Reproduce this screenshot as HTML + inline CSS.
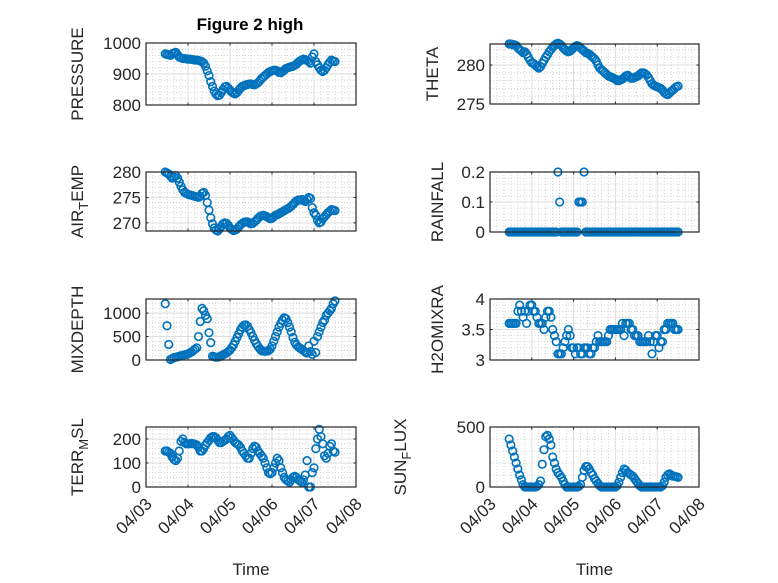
<!DOCTYPE html>
<html><head><meta charset="utf-8">
<style>
html,body{margin:0;padding:0;background:#fff;}
svg{display:block;font-family:"Liberation Sans","DejaVu Sans",sans-serif;}
</style></head>
<body>
<svg id="fig" width="778" height="583" viewBox="0 0 778 583" xmlns="http://www.w3.org/2000/svg">
<rect x="0" y="0" width="778" height="583" fill="#fff"/>
<text x="250" y="30" text-anchor="middle" font-size="17" font-weight="bold" fill="#000">Figure 2 high</text>
</svg>
<script>
// hours since 04/03 00:00 (hourly samples)
const startHour = 11, endHour = 108;
const dayLabels = ["04/03","04/04","04/05","04/06","04/07","04/08"];

const pressure = [965,963,962,960,965,968,970, 962,955,952,950,950,949,948, 948,947,946,945,945,944,942,
 940,935,925,910,895,875,860, 845,835,830,832,840,850,858, 860,855,848,842,838,836,840,
 848,855,860,862,865,866,868, 868,866,865,868,872,878,885, 890,895,900,905,908,910,912,
 912,910,905,904,908,912,918, 920,922,924,925,928,932,938, 942,945,948,946,944,940,935,
 955,965,940,930,920,912,908, 912,920,930,938,945,942,940];
const airTemp = [280,279.8,279.6,279.2,278.8,279,279.3, 278.8,278,277.2,276.5,276,275.8,275.6,
 275.5,275.4,275.3,275.2,275.1,275,275.2, 275.8,276,275.4,274,272.5,271,269.8,
 269,268.6,268.4,268.8,269.3,269.8,270, 269.9,269.5,269,268.7,268.5,268.6,268.8,
 269.2,269.6,269.9,270.1,270.2,270.2,270, 269.8,269.9,270.2,270.5,270.9,271.2,271.4,
 271.5,271.4,271.2,271,270.8,270.9,271.2, 271.5,271.6,271.8,272,272.2,272.4,272.6,
 272.8,273,273.3,273.6,274,274.3,274.5, 274.5,274.6,274.4,274.2,274.6,275,274.8,
 273,272,271.5,270.5,270,270.2,270.8, 271.2,271.6,272,272.3,272.6,272.5,272.4];
const mixDepth = [1200,730,330,10,30,50,60, 70,80,90,100,110,120,130, 150,170,200,230,260,500,820,
 1100,1050,950,880,580,370,80, 70,60,60,70,90,110,130, 150,180,210,260,320,400,480,
 560,640,700,740,750,720,650, 580,500,420,350,290,240,200, 190,185,190,200,230,300,400,
 500,600,700,780,850,900,880, 800,700,600,480,380,320,280, 250,230,200,170,150,300,180,
 120,400,160,500,600,700,800, 850,950,1000,1050,1100,1200,1260];
const terrMsl = [150,150,145,140,125,115,110, 120,150,190,200,185,180,180, 180,182,180,178,175,165,150,
 150,160,175,185,195,205,210, 210,205,195,185,185,190,195, 200,210,215,205,195,185,180,
 175,165,150,140,130,120,120, 140,160,170,165,150,140,130, 120,100,80,60,55,60,80,
 100,120,110,80,60,40,30, 25,20,30,40,45,40,30, 25,20,30,50,110,0,0,
 60,80,160,200,240,210,180, 130,120,140,170,180,150,145];
const theta = [282.7,282.7,282.6,282.6,282.5,282.2,282, 281.8,281.6,281.7,281.4,281,280.6,280.3,
 280.2,280,279.8,279.6,279.8,280.2,280.6, 281,281.3,281.7,282,282.3,282.5,282.7,
 282.8,282.7,282.5,282.2,282,281.8,281.7, 281.8,282,282.2,282.4,282.5,282.4,282.2,
 282,281.8,281.6,281.5,281.4,281.2,281, 280.8,280.5,280,279.6,279.4,279.2,279,
 278.8,278.6,278.5,278.4,278.3,278.2,278, 278,278.1,278.2,278.4,278.6,278.7,278.5,
 278.3,278.3,278.4,278.5,278.6,278.8,279, 279,278.9,278.7,278.4,278,277.6,277.4,
 277.3,277.2,277.1,277,276.8,276.5,276.3, 276.2,276.4,276.6,276.8,277,277.2,277.3];
const rainfall = [0,0,0,0,0,0,0, 0,0,0,0,0,0,0, 0,0,0,0,0,0,0, 0,0,0,0,0,0,0,
 0.2,0.1,0,0,0,0,0, 0,0,0,0,0,0.1,0.1, 0.1,0.2,0,0,0,0,0, 0,0,0,0,0,0,0,
 0,0,0,0,0,0,0, 0,0,0,0,0,0,0, 0,0,0,0,0,0,0, 0,0,0,0,0,0,0, 0,0,0,0,0,0,0, 0,0,0,0,0,0,0];
const h2oMix = [3.6,3.6,3.6,3.6,3.6,3.8,3.9, 3.8,3.7,3.8,3.6,3.8,3.9,3.9, 3.8,3.8,3.7,3.6,3.6,3.6,3.5,
 3.7,3.8,3.8,3.7,3.5,3.4,3.3, 3.1,3.1,3.1,3.2,3.3,3.4,3.5, 3.4,3.2,3.2,3.1,3.2,3.2,3.1,
 3.1,3.2,3.2,3.2,3.1,3.1,3.2, 3.2,3.3,3.4,3.3,3.3,3.3,3.3, 3.3,3.4,3.5,3.5,3.5,3.5,3.5,
 3.5,3.5,3.6,3.4,3.6,3.6,3.6, 3.5,3.5,3.4,3.4,3.4,3.3,3.3, 3.3,3.3,3.3,3.4,3.3,3.1,3.3,
 3.4,3.4,3.2,3.3,3.3,3.5,3.5, 3.6,3.6,3.6,3.6,3.5,3.5,3.5];
const sunFlux = [400,350,300,250,200,150,100, 60,20,0,0,0,0,0, 0,0,5,20,50,190,310,
 420,430,400,350,250,200,150, 120,100,80,50,20,0,0, 0,0,0,0,0,5,20,
 80,140,170,170,150,120,100, 70,50,30,10,0,0,0, 0,0,0,0,0,0,10,
 40,80,120,150,140,120,110, 100,90,70,50,30,10,0, 0,0,0,0,0,0,0,
 0,0,0,0,10,40,80, 100,110,100,90,90,85,80];

const NS="http://www.w3.org/2000/svg";
const svg=document.getElementById('fig');
function mk(tag,attrs,parent){const e=document.createElementNS(NS,tag);for(const k in attrs)e.setAttribute(k,attrs[k]);(parent||svg).appendChild(e);return e;}

const hours=[];for(let h=startHour;h<=endHour;h++)hours.push(h);

const panels=[
 {name:'pressure',data:pressure,x0:146,x1:356,y0:43,y1:105,ymin:800,ymax:1000,ticks:[800,900,1000],labels:['800','900','1000'],lab:['PRESSURE'],lx:83,xt:false},
 {name:'theta',data:theta,x0:490,x1:699,y0:44,y1:104,ymin:275,ymax:282.7,ticks:[275,280],labels:['275','280'],lab:['THETA'],lx:438,xt:false},
 {name:'air-temp',data:airTemp,x0:146,x1:356,y0:172,y1:231,ymin:268.4,ymax:280,ticks:[270,275,280],labels:['270','275','280'],lab:['AIR','T','EMP'],lx:83,xt:false},
 {name:'rainfall',data:rainfall,x0:490,x1:699,y0:172,y1:232,ymin:0,ymax:0.2,ticks:[0,0.1,0.2],labels:['0','0.1','0.2'],lab:['RAINFALL'],lx:443,xt:false},
 {name:'mixdepth',data:mixDepth,x0:146,x1:356,y0:299,y1:360,ymin:0,ymax:1300,ticks:[0,500,1000],labels:['0','500','1000'],lab:['MIXDEPTH'],lx:83,xt:false},
 {name:'h2omixra',data:h2oMix,x0:490,x1:699,y0:299,y1:360,ymin:3,ymax:4,ticks:[3,3.5,4],labels:['3','3.5','4'],lab:['H2OMIXRA'],lx:443,xt:false},
 {name:'terr-msl',data:terrMsl,x0:146,x1:356,y0:427,y1:487,ymin:0,ymax:250,ticks:[0,100,200],labels:['0','100','200'],lab:['TERR','M','SL'],lx:83,xt:true},
 {name:'sun-flux',data:sunFlux,x0:490,x1:699,y0:427,y1:487,ymin:0,ymax:500,ticks:[0,500],labels:['0','500'],lab:['SUN','F','LUX'],lx:406,xt:true}
];

panels.forEach(p=>{
 const g=mk('g',{});
 
 
 const xs=h=>p.x0+(h/24)/5*(p.x1-p.x0);
 const ys=v=>p.y1-(v-p.ymin)/(p.ymax-p.ymin)*(p.y1-p.y0);
 mk('rect',{x:p.x0,y:p.y0,width:p.x1-p.x0,height:p.y1-p.y0,fill:'#fff'},g);
 for(let d=0;d<5;d++)for(let m=1;m<6;m++){const x=xs((d+m/6)*24);
  mk('line',{x1:x,x2:x,y1:p.y0,y2:p.y1,stroke:'#c8c8c8','stroke-width':0.8,'stroke-dasharray':'1 2'},g);}
 const st=(p.ticks.length>1)?(p.ticks[1]-p.ticks[0]):(p.ymax-p.ymin);
 const mst=st/5;
 for(let v=Math.ceil(p.ymin/mst)*mst;v<=p.ymax+1e-9;v+=mst){const y=ys(v);
  mk('line',{x1:p.x0,x2:p.x1,y1:y,y2:y,stroke:'#c8c8c8','stroke-width':0.8,'stroke-dasharray':'1 2'},g);}
 for(let d=1;d<5;d++){const x=xs(d*24);mk('line',{x1:x,x2:x,y1:p.y0,y2:p.y1,stroke:'#dedede','stroke-width':1},g);}
 p.ticks.forEach(v=>{const y=ys(v);mk('line',{x1:p.x0,x2:p.x1,y1:y,y2:y,stroke:'#dedede','stroke-width':1},g);});
 for(let d=0;d<=5;d++){const x=xs(d*24);
  mk('line',{x1:x,x2:x,y1:p.y1,y2:p.y1-2.5,stroke:'#262626'},g);
  mk('line',{x1:x,x2:x,y1:p.y0,y2:p.y0+2.5,stroke:'#262626'},g);}
 p.ticks.forEach((v,i)=>{const y=ys(v);
  mk('line',{x1:p.x0,x2:p.x0+2.5,y1:y,y2:y,stroke:'#262626'},g);
  mk('line',{x1:p.x1,x2:p.x1-2.5,y1:y,y2:y,stroke:'#262626'},g);
  const t=mk('text',{x:p.x0-5,y:y+6,'text-anchor':'end','font-size':17,fill:'#262626'},g);
  t.textContent=p.labels[i];
  
  
 });
 p.data.forEach((v,i)=>{
  const c=mk('circle',{cx:xs(hours[i]),cy:ys(v),r:3.8,fill:'none',stroke:'#0072BD','stroke-width':1.6},g);
  
  
 });
 mk('rect',{x:p.x0,y:p.y0,width:p.x1-p.x0,height:p.y1-p.y0,fill:'none',stroke:'#262626','stroke-width':1.2},g);
 const cy=(p.y0+p.y1)/2;
 const yl=mk('text',{x:0,y:0,'text-anchor':'middle','font-size':17,fill:'#262626',transform:`translate(${p.lx},${cy}) rotate(-90)`},g);
 
 
 if(p.lab.length===1){yl.textContent=p.lab[0];}
 else{
  const a=mk('tspan',{},yl);a.textContent=p.lab[0];
  const b=mk('tspan',{dy:5,'font-size':13},yl);b.textContent=p.lab[1];
  const c2=mk('tspan',{dy:-5},yl);c2.textContent=p.lab[2];
 }
 if(p.xt){
  for(let d=0;d<=5;d++){const x=xs(d*24);
   const t=mk('text',{x:0,y:0,'text-anchor':'end','font-size':17,fill:'#262626',transform:`translate(${x+7},${p.y1+18}) rotate(-45)`},g);
   t.textContent=dayLabels[d];
   
   
  }
  const xt=mk('text',{x:(p.x0+p.x1)/2,y:575,'text-anchor':'middle','font-size':17,fill:'#262626'},g);
  xt.textContent='Time';
  
  
 }
});
</script>
</body></html>
